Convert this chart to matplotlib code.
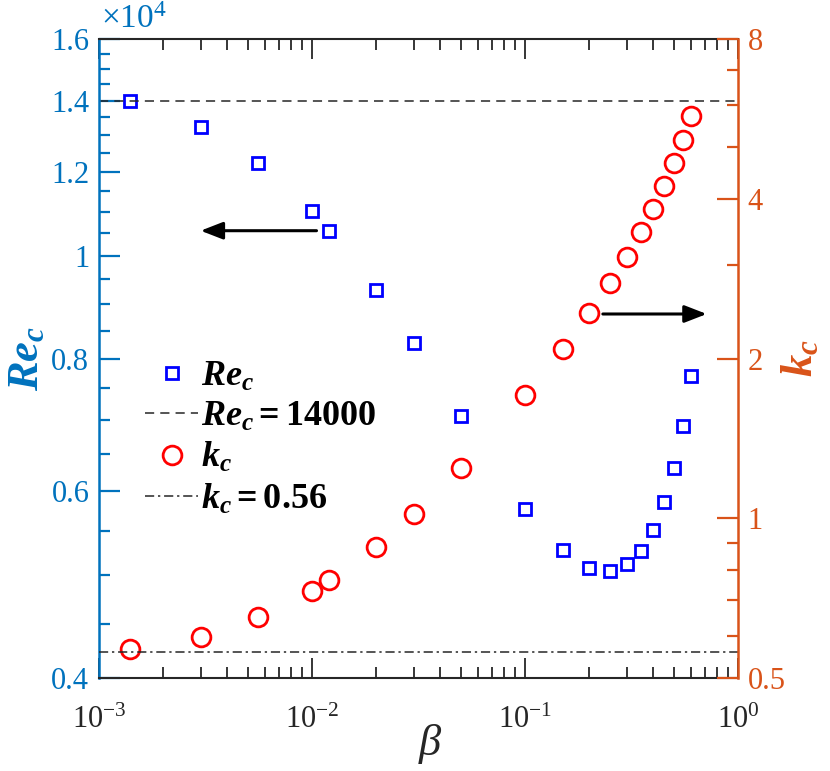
import matplotlib
matplotlib.use("Agg")
import matplotlib.pyplot as plt
from matplotlib.lines import Line2D
from matplotlib.ticker import FixedLocator, NullFormatter, LogLocator, LogFormatterSciNotation

plt.rcParams['font.family'] = ['Liberation Serif', 'DejaVu Serif']
plt.rcParams['mathtext.fontset'] = 'custom'
plt.rcParams['mathtext.it'] = 'Liberation Serif:italic:bold'
plt.rcParams['mathtext.rm'] = 'Liberation Serif:bold'
plt.rcParams['mathtext.bf'] = 'Liberation Serif:bold'

# ---- data ----
beta = [0.0014, 0.003, 0.0056, 0.01, 0.012, 0.02, 0.03, 0.05, 0.1, 0.15,
        0.2, 0.25, 0.3, 0.35, 0.4, 0.45, 0.5, 0.55, 0.6]
Re_c = [13990, 13230, 12235, 11015, 10556, 9282, 8274, 7063, 5771, 5282,
        5082, 5049, 5120, 5272, 5515, 5861, 6309, 6908, 7702]
k_c = [0.566, 0.598, 0.651, 0.730, 0.765, 0.884, 1.019, 1.245, 1.707, 2.082,
       2.434, 2.771, 3.111, 3.463, 3.826, 4.228, 4.665, 5.163, 5.728]
Re_ref = 14000
k_ref = 0.56
left_ticks = [4000, 6000, 8000, 10000, 12000, 14000, 16000]
left_ticklabels = ['0.4', '0.6', '0.8', '1', '1.2', '1.4', '1.6']
left_minor = [v for v in range(4500, 16000, 500) if v not in left_ticks]
right_ticks = [0.5, 1, 2, 4, 8]
right_ticklabels = ['0.5', '1', '2', '4', '8']
right_minor = [0.6, 0.7, 0.8, 0.9, 3, 5, 6, 7]
arrow_left = dict(x_from=0.0105, x_to=0.003, y=10556)
arrow_right = dict(x_from=0.232, x_to=0.713, y=2.426)

BLUE_AX = '#0072BD'
ORANGE_AX = '#D95319'
DARK = '#262626'

fig = plt.figure(figsize=(8.30, 7.71), dpi=100)
ax = fig.add_axes([99/830, 93/771, 639/830, 639/771])
ax2 = ax.twinx()

ax.set_xscale('log')
ax.set_yscale('log')
ax2.set_yscale('log')
ax.set_xlim(1e-3, 1e0)
ax.set_ylim(4000, 16000)
ax2.set_ylim(0.5, 8)

# data
ax.plot(beta, Re_c, linestyle='none', marker='s', ms=9, mfc='none',
        mec='#0000FF', mew=2, label=r'$Re_c$')
ax.axhline(Re_ref, color=DARK, lw=1.1, ls=(0, (6, 4)), label=r'$Re_c=14000$')
ax2.plot(beta, k_c, linestyle='none', marker='o', ms=13.5, mfc='none',
         mec='#FF0000', mew=2, label=r'$k_c$')
ax2.axhline(k_ref, color=DARK, lw=1.1, ls=(0, (6, 2.5, 1.5, 2.5)), label=r'$k_c=0.56$')

# arrows
ax.annotate('', xy=(arrow_left['x_to'], arrow_left['y']),
            xytext=(arrow_left['x_from'], arrow_left['y']),
            arrowprops=dict(arrowstyle='-|>,head_length=0.9,head_width=0.35',
                            color='k', lw=2.2, mutation_scale=15, shrinkA=0, shrinkB=0))
ax2.annotate('', xy=(arrow_right['x_to'], arrow_right['y']),
             xytext=(arrow_right['x_from'], arrow_right['y']),
             arrowprops=dict(arrowstyle='-|>,head_length=0.9,head_width=0.35',
                             color='k', lw=2.2, mutation_scale=15, shrinkA=0, shrinkB=0))

# spines
for s in ['top', 'bottom']:
    ax.spines[s].set_color(DARK)
    ax.spines[s].set_linewidth(1.5)
    ax2.spines[s].set_visible(False)
ax.spines['left'].set_color(BLUE_AX)
ax.spines['left'].set_linewidth(1.8)
ax.spines['right'].set_visible(False)
ax2.spines['left'].set_visible(False)
ax2.spines['right'].set_color(ORANGE_AX)
ax2.spines['right'].set_linewidth(1.8)

# x ticks
ax.xaxis.set_major_locator(FixedLocator([1e-3, 1e-2, 1e-1, 1e0]))
ax.xaxis.set_major_formatter(LogFormatterSciNotation())
ax.xaxis.set_minor_locator(LogLocator(base=10, subs=range(2, 10), numticks=20))
ax.xaxis.set_minor_formatter(NullFormatter())
ax.tick_params(axis='x', which='both', direction='in', top=True, bottom=True,
               colors=DARK, labelsize=22, pad=20)
ax.tick_params(axis='x', which='major', length=14.5, width=1.3)
ax.tick_params(axis='x', which='minor', length=8, width=1.3)

# left y ticks
ax.yaxis.set_major_locator(FixedLocator(left_ticks))
ax.set_yticklabels(left_ticklabels)
ax.yaxis.set_minor_locator(FixedLocator(left_minor))
ax.yaxis.set_minor_formatter(NullFormatter())
ax.tick_params(axis='y', which='both', direction='in', left=True, right=False,
               colors=BLUE_AX, labelsize=22, pad=7)
ax.tick_params(axis='y', which='major', length=15, width=1.6)
ax.tick_params(axis='y', which='minor', length=8, width=1.6)

# right y ticks
ax2.yaxis.set_major_locator(FixedLocator(right_ticks))
ax2.set_yticklabels(right_ticklabels)
ax2.yaxis.set_minor_locator(FixedLocator(right_minor))
ax2.yaxis.set_minor_formatter(NullFormatter())
ax2.tick_params(axis='y', which='both', direction='in', right=True, left=False,
                colors=ORANGE_AX, labelsize=22, pad=7)
ax2.tick_params(axis='y', which='major', length=15, width=1.6)
ax2.tick_params(axis='y', which='minor', length=8, width=1.6)

# labels
ax.set_ylabel(r'$Re_c$', color=BLUE_AX, fontsize=32)
ax.yaxis.set_label_coords(-0.082, 0.50)
ax2.set_ylabel(r'$k_c$', color=ORANGE_AX, fontsize=32, rotation=90)
ax2.yaxis.set_label_coords(1.066, 0.50)
ax.set_xlabel('β', fontsize=32, style='italic', color=DARK)
ax.xaxis.set_label_coords(0.517, -0.072)

fig.text(101/830, 1 - 20/771, r'×10$^{\mathdefault{4}}$', color=BLUE_AX,
         fontsize=24, ha='left', va='center')

# legend
handles = [
    Line2D([], [], ls='none', marker='s', ms=9, mfc='none', mec='#0000FF', mew=2),
    Line2D([], [], color=DARK, lw=1.1, ls=(0, (6, 4))),
    Line2D([], [], ls='none', marker='o', ms=13.5, mfc='none', mec='#FF0000', mew=2),
    Line2D([], [], color=DARK, lw=1.1, ls=(0, (6, 2.5, 1.5, 2.5))),
]
labels = [r'$Re_c$', r'$Re_c=14000$', r'$k_c$', r'$k_c=0.56$']
leg = ax2.legend(handles, labels, loc='upper left', bbox_to_anchor=(0.05, 0.52),
                 frameon=False, fontsize=26, handlelength=1.45, handletextpad=0.1,
                 labelspacing=0.2, borderaxespad=0)

fig.savefig('out.png', dpi=100)
